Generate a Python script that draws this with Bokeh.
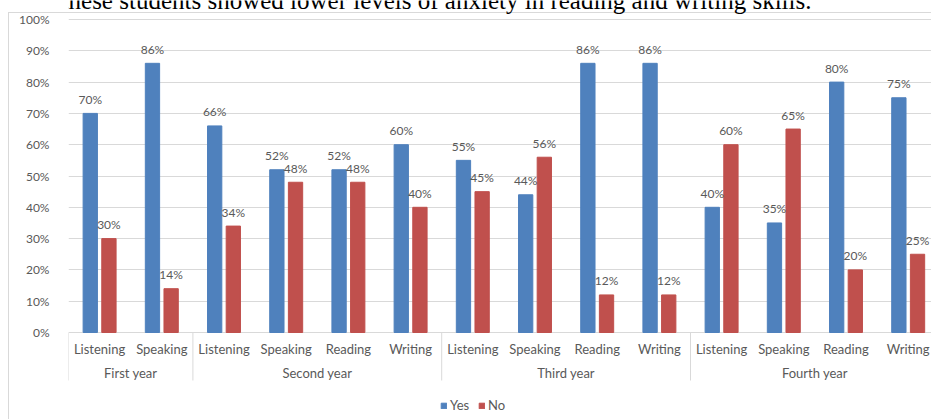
from bokeh.plotting import figure
from bokeh.models import Range1d, ColumnDataSource, Legend, LegendItem, Label
from bokeh.core.properties import value
from bokeh.embed import file_html
from bokeh.resources import INLINE

# ---------------- data ----------------
years = ["First year", "Second year", "Third year", "Fourth year"]
year_skills = [
    ["Listening", "Speaking"],
    ["Listening", "Speaking", "Reading", "Writing"],
    ["Listening", "Speaking", "Reading", "Writing"],
    ["Listening", "Speaking", "Reading", "Writing"],
]
yes_values = [70, 86, 66, 52, 52, 60, 55, 44, 86, 86, 40, 35, 80, 75]
no_values = [30, 14, 34, 48, 48, 40, 45, 56, 12, 12, 60, 65, 20, 25]
y_ticks = [0, 10, 20, 30, 40, 50, 60, 70, 80, 90, 100]
y_tick_labels = ["0%", "10%", "20%", "30%", "40%", "50%", "60%", "70%", "80%", "90%", "100%"]
series_names = ["Yes", "No"]
sentence = "hand, these students showed lower levels of anxiety in reading and writing skills."

# ---------------- styling ----------------
BLUE = "#4F81BD"
RED = "#C0504D"
TEXT = "#595959"
GRID = "#d9d9d9"
FONT = "Lato"

W, H = 931, 419
LEFT = 68
PX_PER_UNIT = 3.13          # pixels per percentage point
ZERO_FROM_TOP = 332         # px from frame top to the 0% line
y_top = ZERO_FROM_TOP / PX_PER_UNIT
y_bottom = -(H - ZERO_FROM_TOP) / PX_PER_UNIT
cat_px = 62.2
x_end = (W - LEFT) / cat_px

skills = [s for grp in year_skills for s in grp]
n = len(skills)
centers = [i + 0.5 for i in range(n)]
off, bw = 0.15, 0.23

p = figure(width=W, height=H, output_backend="svg", toolbar_location=None,
           x_range=Range1d(0, x_end), y_range=Range1d(y_bottom, y_top),
           x_axis_location=None, min_border_left=LEFT, min_border_right=0,
           min_border_top=0, min_border_bottom=0)
p.outline_line_color = None
p.background_fill_color = None
p.border_fill_color = None
p.xgrid.visible = False
p.ygrid.grid_line_color = GRID
p.ygrid.grid_line_width = 1

# faint chart-box edges (left and top), drawn behind the transparent canvas
p.styles = {
    "background-color": "white",
    "background-image": "linear-gradient(#d9d9d9, #d9d9d9), linear-gradient(#d9d9d9, #d9d9d9)",
    "background-size": "1px 100%, 100% 1px",
    "background-position": "8px 12px, 8px 12px",
    "background-repeat": "no-repeat",
}

yax = p.yaxis[0]
yax.ticker = y_ticks
yax.major_label_overrides = {t: l for t, l in zip(y_ticks, y_tick_labels)}
yax.axis_line_color = None
yax.major_tick_line_color = None
yax.minor_tick_line_color = None
yax.major_label_text_font = FONT
yax.major_label_text_font_size = "12px"
yax.major_label_text_color = TEXT
yax.major_label_standoff = 13

src = ColumnDataSource(dict(
    xy=[c - off for c in centers], xn=[c + off for c in centers],
    yes=yes_values, no=no_values,
    yes_lbl=[f"{v}%" for v in yes_values], no_lbl=[f"{v}%" for v in no_values],
))
r_yes = p.vbar(x="xy", top="yes", bottom=0, width=bw, color=BLUE, source=src)
r_no = p.vbar(x="xn", top="no", bottom=0, width=bw, color=RED, source=src)

for xcol, ycol, lcol in (("xy", "yes", "yes_lbl"), ("xn", "no", "no_lbl")):
    p.text(x=xcol, y=ycol, text=lcol, source=src, y_offset=-14,
           text_align="center", text_baseline="middle",
           text_font=value(FONT), text_font_size="12px", text_color=TEXT)

# category labels
p.text(x=centers, y=[0] * n, text=skills, y_offset=16,
       text_align="center", text_baseline="middle",
       text_font=value(FONT), text_font_size="13px", text_color=TEXT)

# group labels and separators
bounds = [0]
for grp in year_skills:
    bounds.append(bounds[-1] + len(grp))
g_centers = [(bounds[i] + bounds[i + 1]) / 2 for i in range(len(years))]
p.text(x=g_centers, y=[0] * len(years), text=years, y_offset=40,
       text_align="center", text_baseline="middle",
       text_font=value(FONT), text_font_size="13px", text_color=TEXT)
sep_bottom = -48 / PX_PER_UNIT
p.segment(x0=bounds, y0=[0] * len(bounds), x1=bounds, y1=[sep_bottom] * len(bounds),
          line_color=GRID, line_width=1)

legend = Legend(items=[LegendItem(label=series_names[0], renderers=[r_yes]),
                       LegendItem(label=series_names[1], renderers=[r_no])],
                location=(372, 6), orientation="horizontal",
                glyph_width=7, glyph_height=7, label_height=13, label_standoff=3,
                spacing=8, padding=0, margin=0,
                label_text_font=FONT, label_text_font_size="13px", label_text_color=TEXT,
                border_line_color=None, background_fill_alpha=0)
p.add_layout(legend)

# cut-off sentence of the surrounding document, above the chart
p.add_layout(Label(x=-LEFT / cat_px, y=y_top, text=sentence,
                   text_font="Liberation Serif", text_font_size="25px",
                   text_baseline="alphabetic", text_color="black"))

open("out.html", "w").write(file_html(p, INLINE))
